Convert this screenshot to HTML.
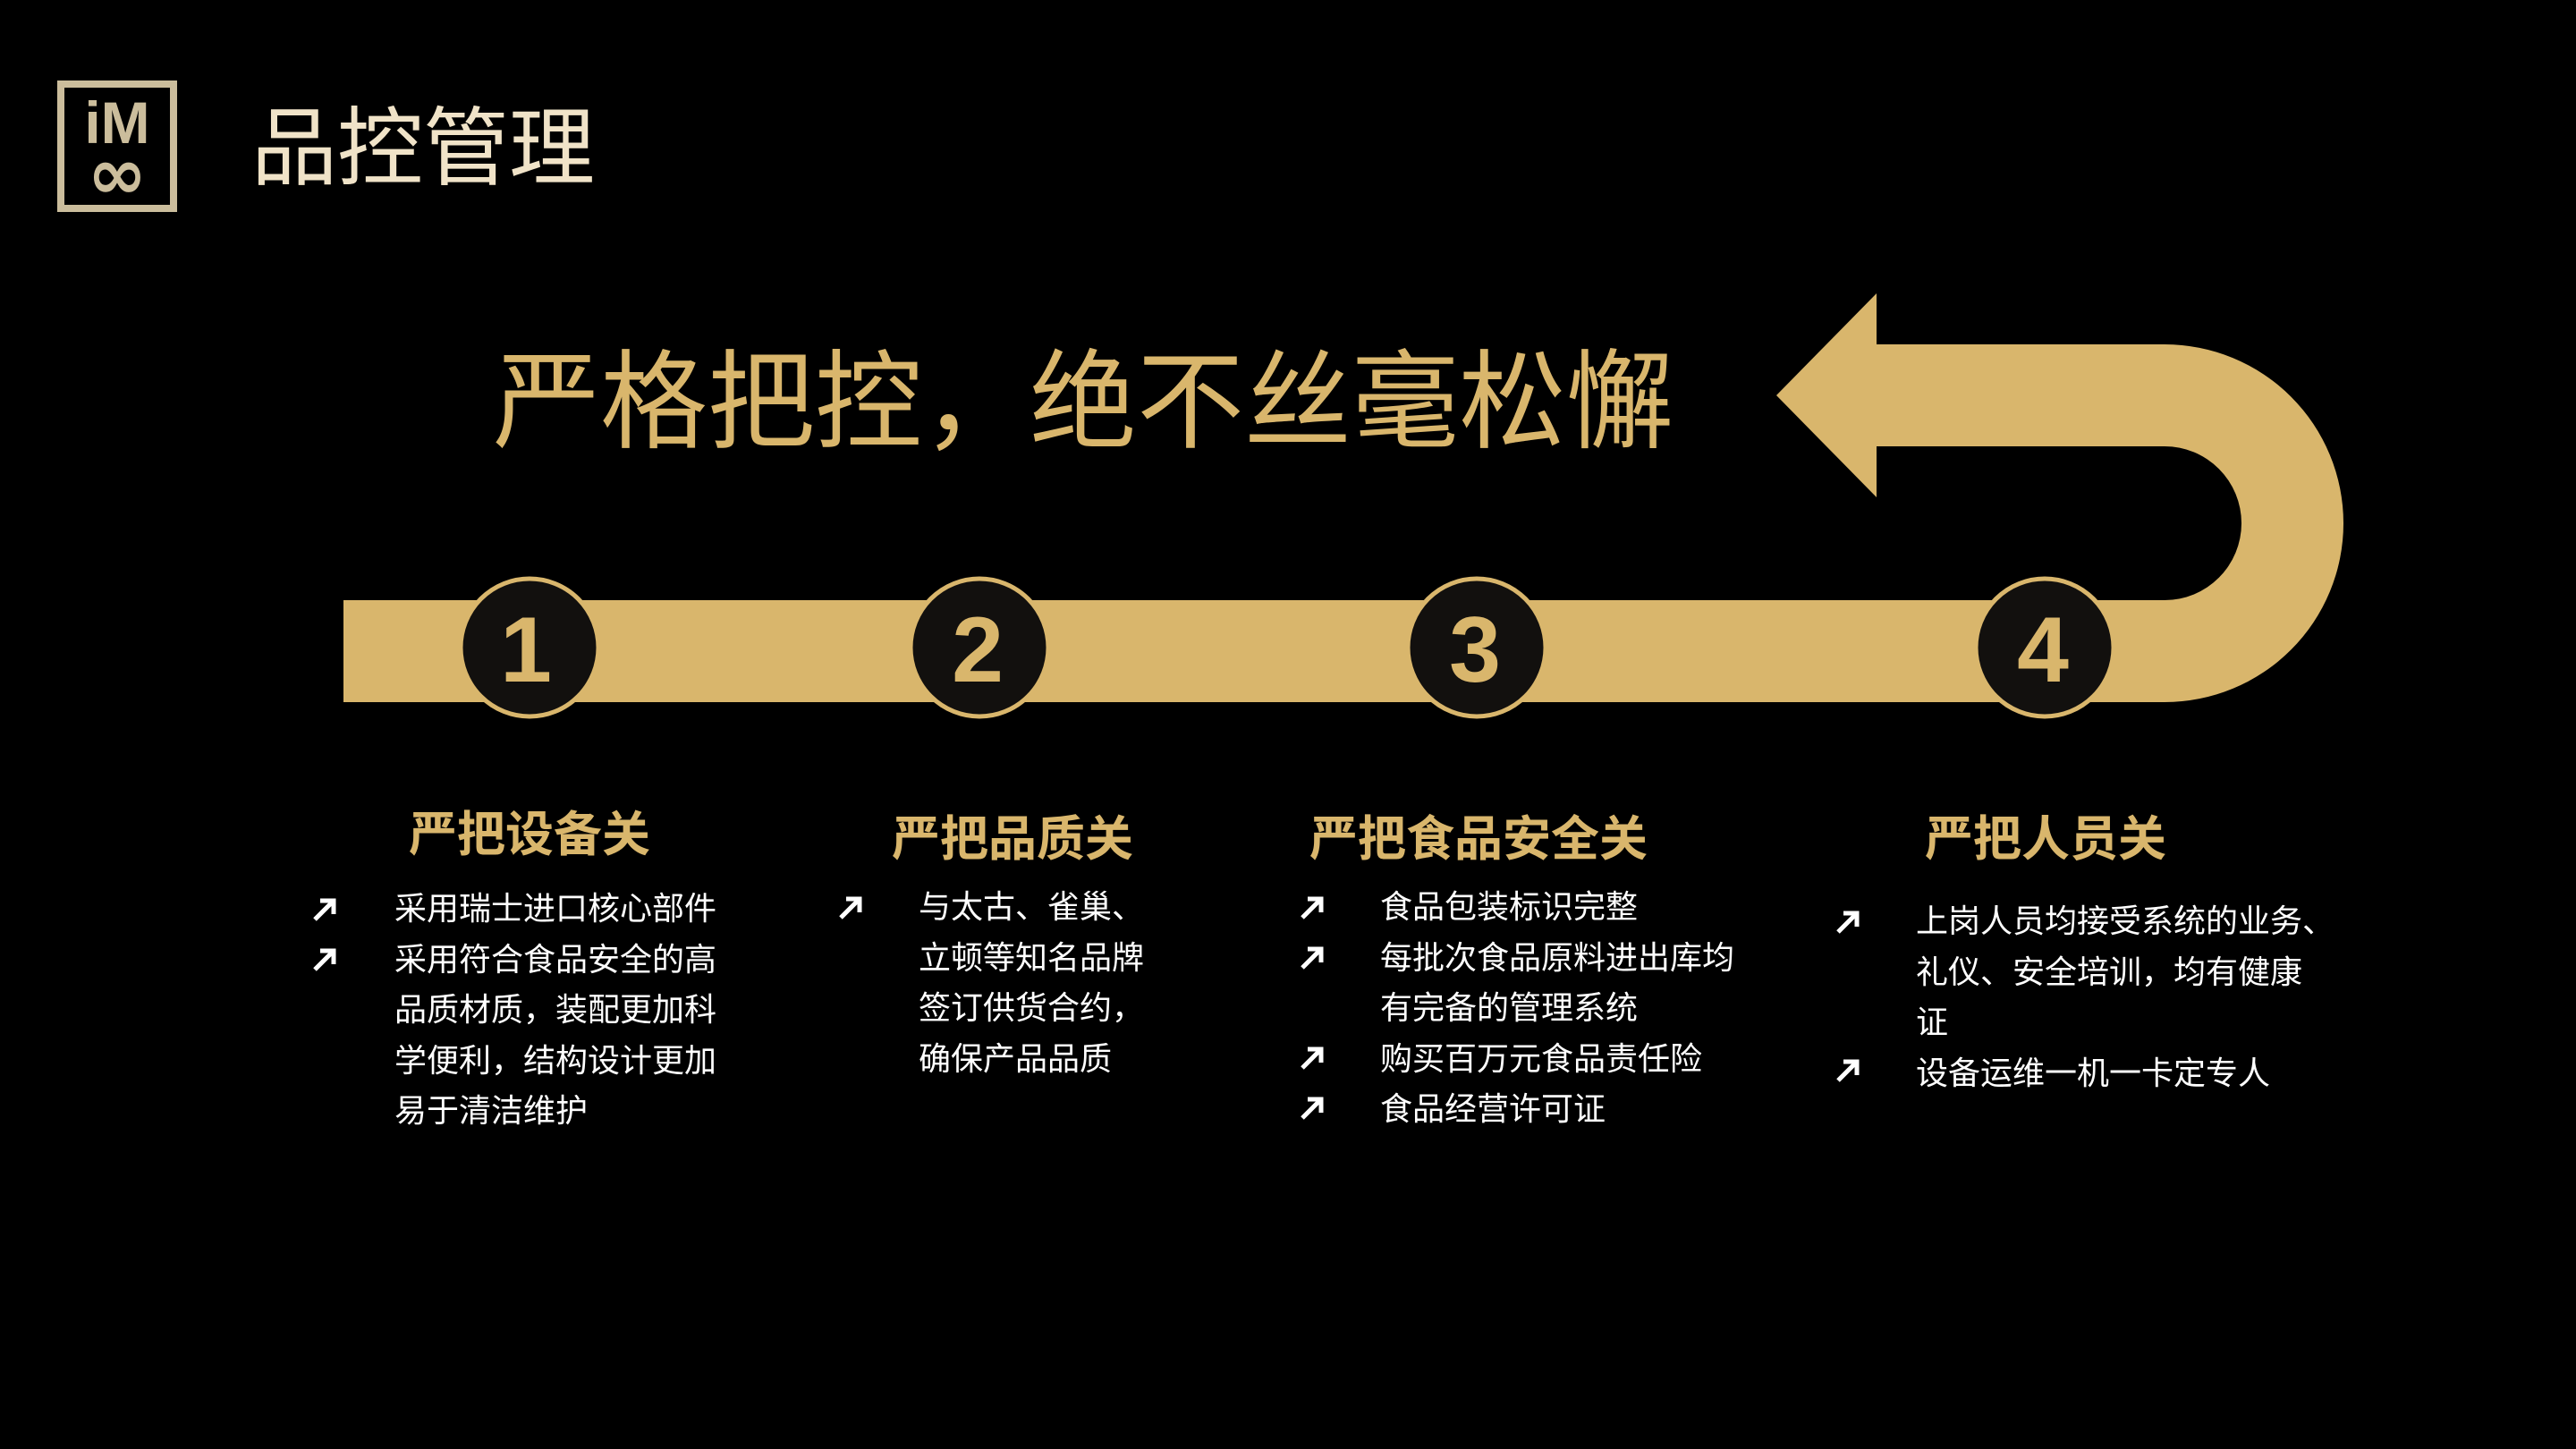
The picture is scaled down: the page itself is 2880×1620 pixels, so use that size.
<!DOCTYPE html>
<html><head><meta charset="utf-8"><style>
html,body{margin:0;padding:0;background:#000;}
body{width:2880px;height:1620px;position:relative;overflow:hidden;font-family:"Liberation Sans","Noto Sans CJK SC",sans-serif;}
.a{position:absolute;white-space:nowrap;}
.h{color:#d9b66c;font-size:54px;font-weight:bold;transform:translate(-50%,-50%);}
.t{color:#fff;font-size:36px;line-height:56.5px;}
</style></head><body>
<svg class="a" style="left:0;top:0" width="2880" height="1620">
<rect x="68" y="94" width="126" height="139" fill="none" stroke="#cbbd9c" stroke-width="8"/>
<text x="131" y="160" font-family="Liberation Sans" font-size="66" font-weight="bold" fill="#cbbd9c" text-anchor="middle">iM</text>
<text x="131" y="222" font-family="DejaVu Sans" font-size="80" font-weight="bold" fill="#cbbd9c" text-anchor="middle">∞</text>
<path d="M384 671 H2420 A86 86 0 0 0 2420 499 H2098 V556 L1986 442 L2098 328 V385 H2420 A200 200 0 0 1 2420 785 H384 Z" fill="#d9b66c"/>
<g fill="#12100e" stroke="#d9b66c" stroke-width="5">
<circle cx="592" cy="724" r="77"/><circle cx="1095" cy="724" r="77"/><circle cx="1651" cy="724" r="77"/><circle cx="2286" cy="724" r="77"/>
</g>
<g font-family="Liberation Sans" font-size="104" font-weight="bold" fill="#d9b66c" text-anchor="middle">
<text x="588" y="762">1</text><text x="1093" y="762">2</text><text x="1649" y="762">3</text><text x="2284" y="762">4</text>
</g>
<g stroke="#fff" stroke-width="5" fill="none">
<path d="M352 1028 L372 1008 M358 1007 H373 V1022"/>
<path d="M352 1084 L372 1064 M358 1063 H373 V1078"/>
<path d="M940 1026 L960 1006 M946 1005 H961 V1020"/>
<path d="M1456 1026 L1476 1006 M1462 1005 H1477 V1020"/>
<path d="M1456 1082 L1476 1062 M1462 1061 H1477 V1076"/>
<path d="M1456 1194 L1476 1174 M1462 1173 H1477 V1188"/>
<path d="M1456 1250 L1476 1230 M1462 1229 H1477 V1244"/>
<path d="M2055 1042 L2075 1022 M2061 1021 H2076 V1036"/>
<path d="M2055 1208 L2075 1188 M2061 1187 H2076 V1202"/>
</g>
</svg>
<div class="a" style="left:281px;top:112px;font-size:96px;line-height:110px;color:#f0e3c8;">品控管理</div>
<div class="a" style="left:551px;top:380px;font-size:120px;line-height:140px;color:#d9b66c;">严格把控，绝不丝毫松懈</div>
<div class="a h" style="left:592px;top:928px;">严把设备关</div>
<div class="a h" style="left:1132px;top:933px;">严把品质关</div>
<div class="a h" style="left:1653px;top:933px;">严把食品安全关</div>
<div class="a h" style="left:2287px;top:933px;">严把人员关</div>
<div class="a t" style="left:441px;top:988px;">采用瑞士进口核心部件<br>采用符合食品安全的高<br>品质材质，装配更加科<br>学便利，结构设计更加<br>易于清洁维护</div>
<div class="a t" style="left:1027px;top:986px;">与太古、雀巢、<br>立顿等知名品牌<br>签订供货合约，<br>确保产品品质</div>
<div class="a t" style="left:1543px;top:986px;">食品包装标识完整<br>每批次食品原料进出库均<br>有完备的管理系统<br>购买百万元食品责任险<br>食品经营许可证</div>
<div class="a t" style="left:2142px;top:1002px;">上岗人员均接受系统的业务、<br>礼仪、安全培训，均有健康<br>证<br>设备运维一机一卡定专人</div>
</body></html>
